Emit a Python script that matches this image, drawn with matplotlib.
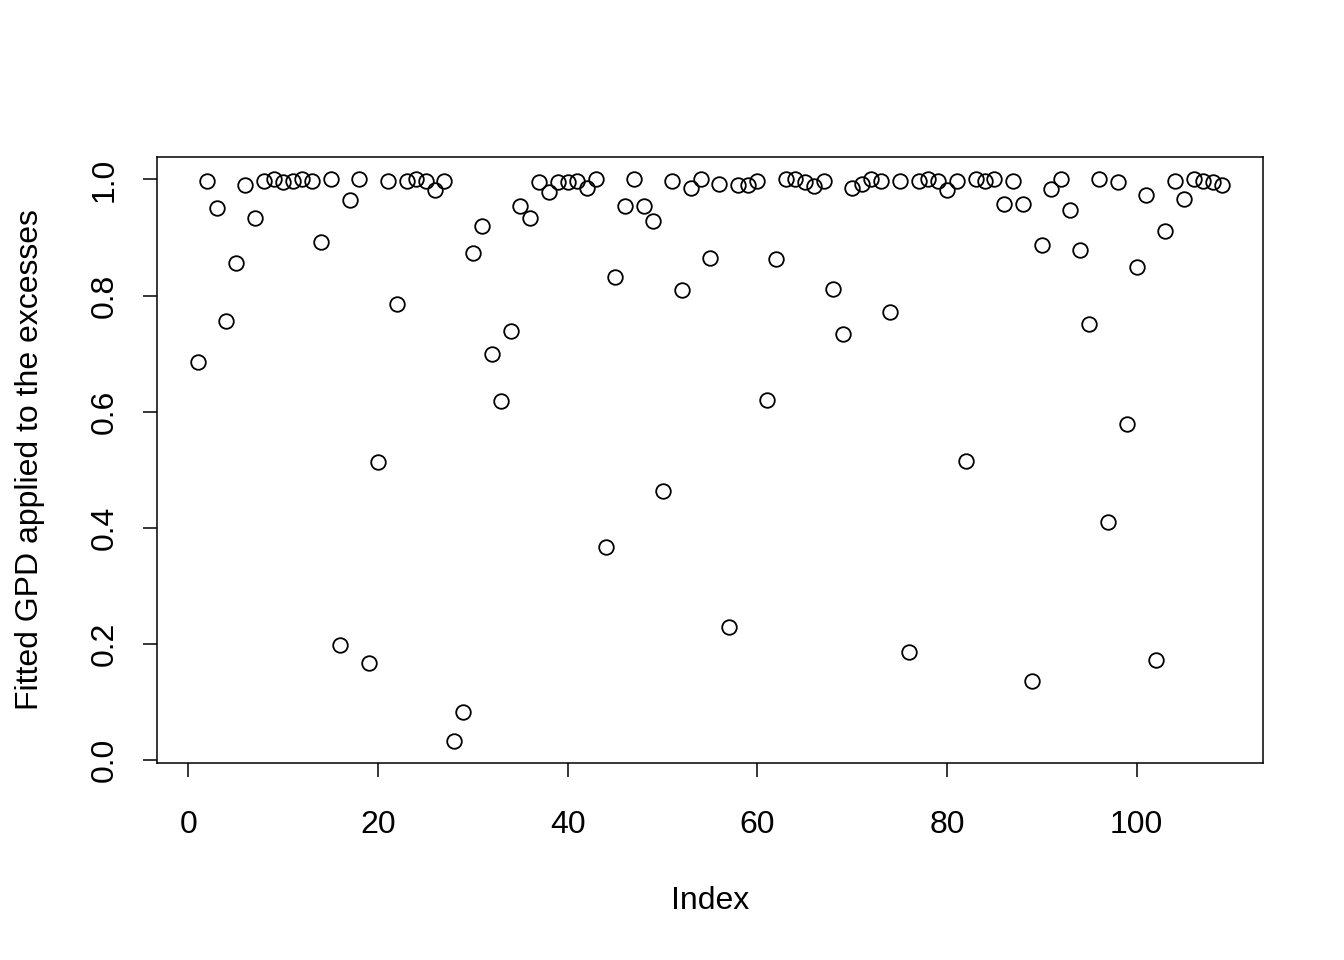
import matplotlib
matplotlib.use("Agg")
import matplotlib.pyplot as plt
import numpy as np

plt.rcParams["font.family"] = ["Liberation Sans", "DejaVu Sans"]

# fitted GPD probabilities for each excess
gpd_vals = [
    0.686, 0.998, 0.950, 0.756, 0.857, 0.991, 0.933, 0.998, 1.000, 0.995,
    0.997, 1.000, 0.997, 0.893, 1.000, 0.198, 0.964, 1.000, 0.167, 0.514,
    0.998, 0.785, 0.997, 1.000, 0.998, 0.981, 0.998, 0.034, 0.084, 0.873,
    0.919, 0.699, 0.619, 0.739, 0.955, 0.933, 0.995, 0.979, 0.995, 0.995,
    0.998, 0.985, 1.000, 0.368, 0.832, 0.954, 1.000, 0.955, 0.928, 0.464,
    0.997, 0.809, 0.986, 1.000, 0.864, 0.993, 0.230, 0.990, 0.991, 0.998,
    0.620, 0.863, 1.000, 1.000, 0.995, 0.988, 0.998, 0.811, 0.734, 0.985,
    0.993, 1.000, 0.998, 0.771, 0.998, 0.186, 0.997, 1.000, 0.998, 0.981,
    0.998, 0.515, 1.000, 0.998, 1.000, 0.957, 0.997, 0.957, 0.136, 0.887,
    0.983, 1.000, 0.947, 0.878, 0.751, 1.000, 0.411, 0.995, 0.579, 0.849,
    0.974, 0.172, 0.912, 0.997, 0.967, 1.000, 0.998, 0.995, 0.991,
]
idx = np.arange(1, len(gpd_vals) + 1)

x_ticks = [0, 20, 40, 60, 80, 100]
y_ticks = [0.0, 0.2, 0.4, 0.6, 0.8, 1.0]

fig = plt.figure(figsize=(13.44, 9.6), dpi=100)
ax = fig.add_axes([157 / 1344, (960 - 763) / 960, (1263 - 157) / 1344, (763 - 157) / 960])

ax.plot(idx, gpd_vals, "o", mfc="none", mec="black", ms=10.5, mew=1.3)

# R-style 4% padding
def rlim(v):
    lo, hi = min(v), max(v)
    d = (hi - lo) * 0.04
    return lo - d, hi + d

ax.set_xlim(*rlim(idx))
ax.set_ylim(*rlim(gpd_vals))

ax.set_xticks(x_ticks)
ax.set_xticklabels([str(t) for t in x_ticks])
ax.set_yticks(y_ticks)
ax.set_yticklabels([f"{t:.1f}" for t in y_ticks], rotation=90, va="center")
ax.tick_params(direction="out", length=10, width=1.1, labelsize=23)
ax.tick_params(axis="x", pad=24)
ax.tick_params(axis="y", pad=17)
for s in ax.spines.values():
    s.set_linewidth(1.1)

ax.set_xlabel("Index", fontsize=23, labelpad=33)
ax.set_ylabel("Fitted GPD applied to the excesses", fontsize=23, labelpad=32)

fig.savefig("out.png", dpi=100, facecolor="white")
